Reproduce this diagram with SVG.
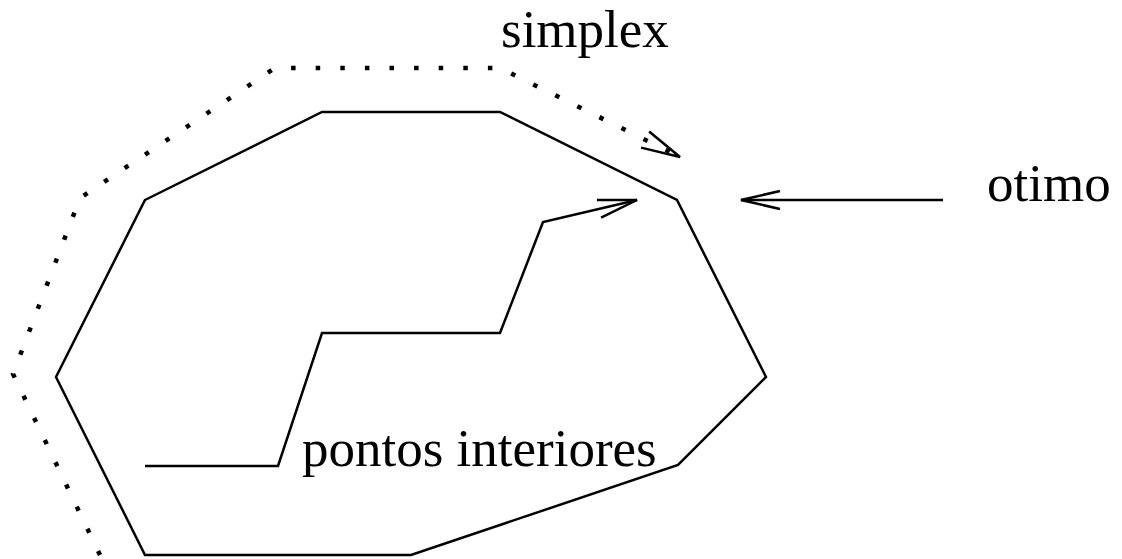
<svg xmlns="http://www.w3.org/2000/svg" width="1122" height="559" viewBox="0 0 1122 559">
  <style>
    .edge { fill: none; stroke: #000; stroke-width: 2.5; stroke-linejoin: miter; }
    .dots { fill: none; stroke: #000; stroke-width: 4.5; stroke-dasharray: 4.5 20.1; stroke-linecap: butt; }
    .label { font-family: "Liberation Serif", "Times New Roman", serif; font-size: 53px; fill: #000; }
  </style>
  <defs>
    <marker id="open-arrow" markerUnits="userSpaceOnUse" orient="auto" refX="0" refY="0"
            markerWidth="50" markerHeight="30" viewBox="-45 -15 50 30" overflow="visible">
      <path d="M -39,-9 L 0,0 L -39,9" fill="none" stroke="#000" stroke-width="2.5" stroke-linejoin="miter"/>
    </marker>
  </defs>

  <rect width="1122" height="559" fill="#fff"/>

  <!-- feasible region -->
  <g id="region">
    <polygon class="edge" points="145,200 322,112 500,112 677,200 766,377 678,465 411,555 145,555 56,377"/>
  </g>

  <g id="connectors">
    <!-- simplex path along the boundary -->
    <polyline class="dots" points="100,555 13,374 80,198 275,68 500,68 672,153"/>
    <path d="M 672,153 L 680,157" fill="none" stroke="none" marker-end="url(#open-arrow)"/>
    <!-- interior point path -->
    <polyline class="edge" points="145,466 278,466 322,333 500,333 543,222 637,200" marker-end="url(#open-arrow)"/>
    <!-- pointer to the optimum -->
    <line class="edge" x1="943" y1="200" x2="741" y2="200" marker-end="url(#open-arrow)"/>
  </g>

  <g id="label-simplex">
    <text class="label" x="501" y="47">simplex</text>
  </g>
  <g id="label-otimo">
    <text class="label" x="987" y="201">otimo</text>
  </g>
  <g id="label-pontos">
    <text class="label" x="302" y="466">pontos interiores</text>
  </g>
</svg>
